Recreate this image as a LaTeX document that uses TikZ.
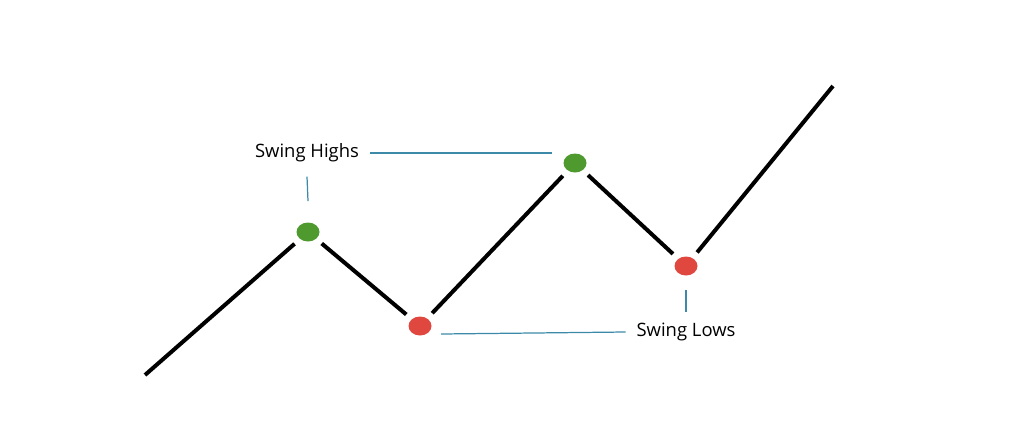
\documentclass[tikz,border=0pt]{standalone}
\usepackage{fontspec}
\setmainfont{Open Sans}
\usetikzlibrary{shapes.geometric}
\definecolor{highgreen}{HTML}{4E9A2E}
\definecolor{lowred}{HTML}{E0473F}
\definecolor{guideblue}{HTML}{3C8AA8}

\begin{document}
\begin{tikzpicture}[x=0.02cm, y=-0.02cm]
	\tikzset{
	highdot/.style={ellipse, fill=highgreen, minimum width=0.46cm, minimum height=0.38cm, inner sep=0pt},
	lowdot/.style={ellipse, fill=lowred, minimum width=0.46cm, minimum height=0.38cm, inner sep=0pt},
	guide/.style={guideblue, line width=0.7pt},
	swinglabel/.style={font=\fontsize{10.5}{12}\selectfont, inner sep=0pt}}
	\useasboundingbox (0,0) rectangle (1024,423);
	
	% price swings
	\coordinate (start) at (145,375);
	\node[highdot] (high1) at (308,232) {};
	\node[lowdot] (low1) at (420,326) {};
	\node[highdot] (high2) at (575,163) {};
	\node[lowdot] (low2) at (686,266) {};
	\coordinate (finish) at (833,86);
	
	\begin{scope}[line width=0.8mm]
	\draw[shorten >=4pt] (start) -- (high1);
	\draw[shorten <=4pt, shorten >=4pt] (high1) -- (low1);
	\draw[shorten <=4pt, shorten >=4pt] (low1) -- (high2);
	\draw[shorten <=4pt, shorten >=4pt] (high2) -- (low2);
	\draw[shorten <=4pt] (low2) -- (finish);
	\end{scope}
	
	% labels
	\node[swinglabel] (highs) at (307,153) {Swing Highs};
	\node[swinglabel] (lows) at (686,332) {Swing Lows};
	\coordinate (highsend) at (552,153);
	\coordinate (lowsend) at (441,334);
	\draw[guide] ([xshift=6pt]highs.east) -- (highsend);
	\draw[guide] ([yshift=-8pt]highs.south) -- ([yshift=12pt]high1.north);
	\draw[guide] ([xshift=-6pt]lows.west) -- (lowsend);
	\draw[guide] ([yshift=6pt]lows.north) -- ([yshift=-8pt]low2.south);
\end{tikzpicture}
\end{document}
